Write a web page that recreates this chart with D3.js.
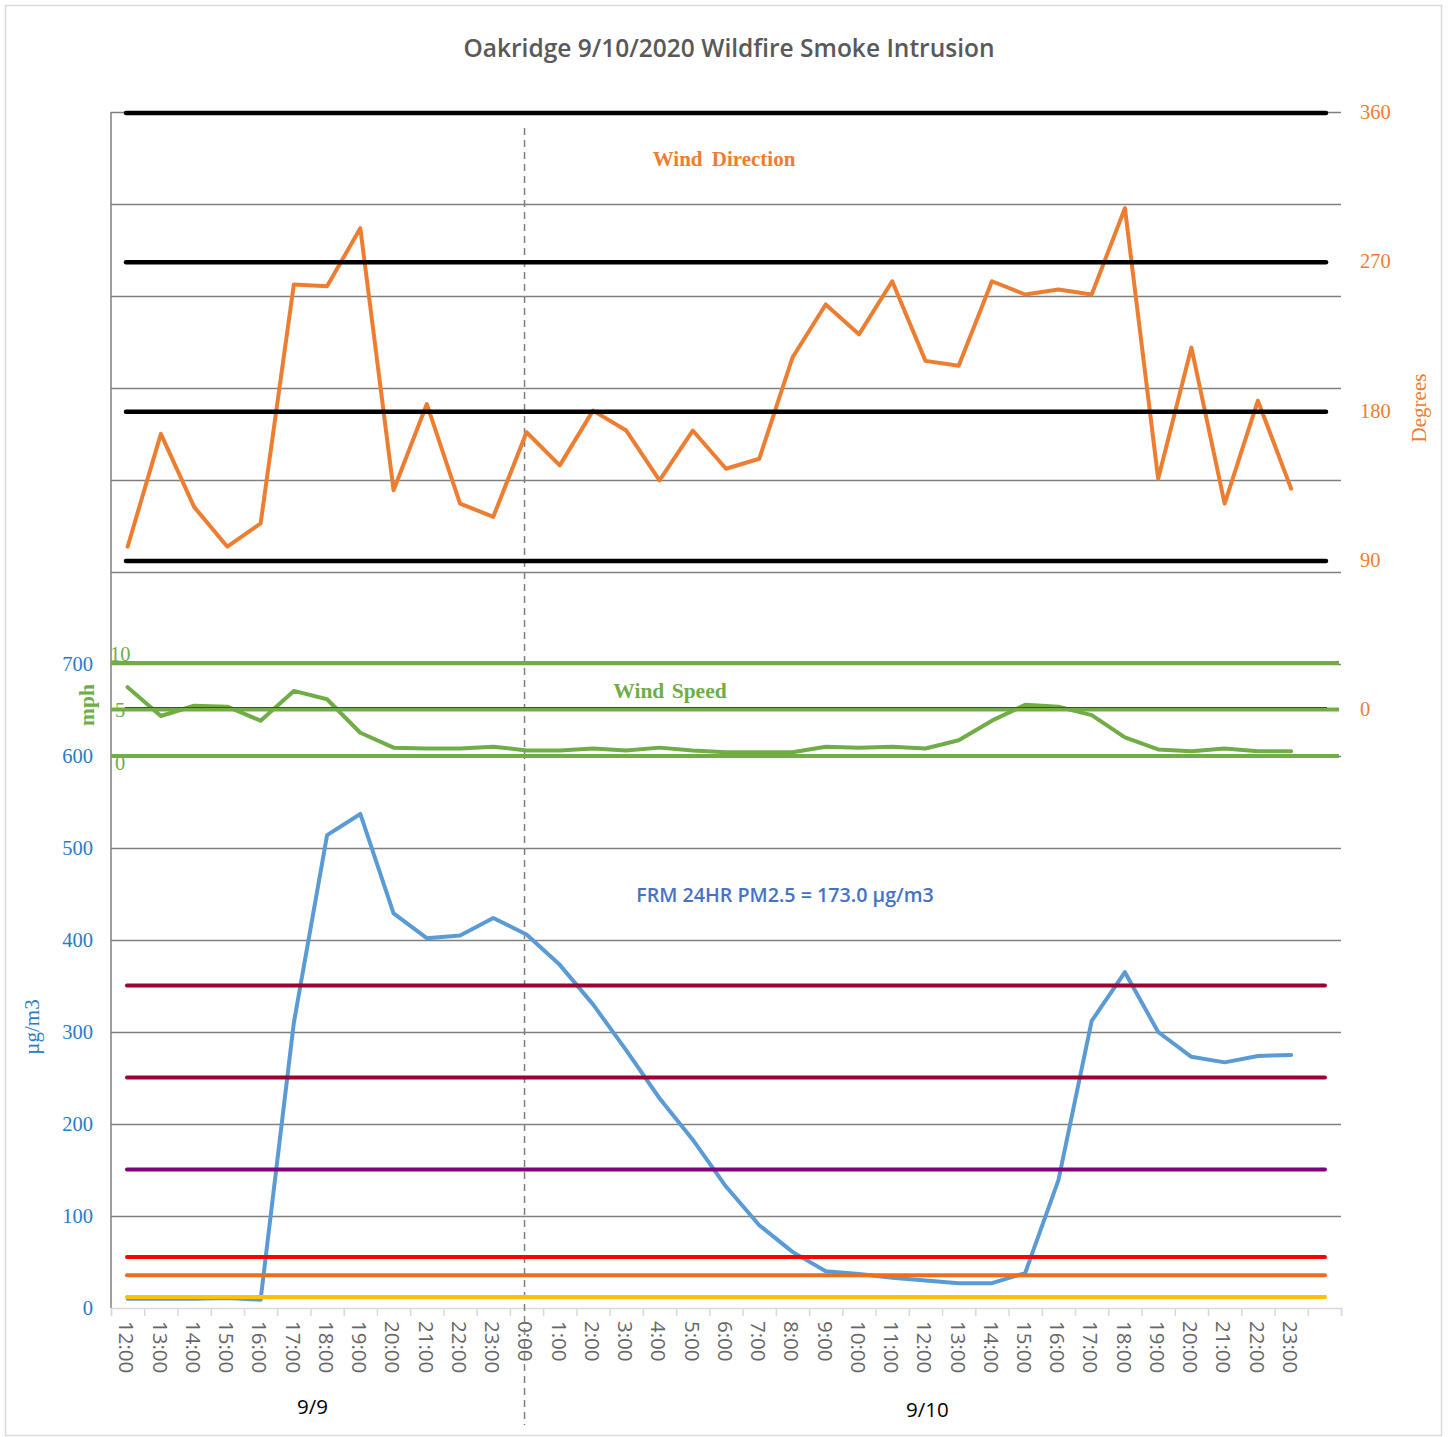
<!DOCTYPE html>
<html>
<head>
<meta charset="utf-8">
<script src="https://cdnjs.cloudflare.com/ajax/libs/d3/7.8.5/d3.min.js"></script>
<style>
  body { margin: 0; background: #fff; }
  svg { display: block; }
</style>
</head>
<body>
<div id="chart"></div>
<script>
// hourly categories, 9/9 12:00 through 9/10 23:00
let hours = ['12:00','13:00','14:00','15:00','16:00','17:00','18:00','19:00','20:00','21:00','22:00','23:00',
  '0:00','1:00','2:00','3:00','4:00','5:00','6:00','7:00','8:00','9:00','10:00','11:00',
  '12:00','13:00','14:00','15:00','16:00','17:00','18:00','19:00','20:00','21:00','22:00','23:00']
let days = ['9/9','9/10']
let dayStart = [0, 12]
let dayEnd = [12, 37]

// PM2.5 ug/m3
let pm25 = [10,10,10,11,9,310,514,537,429,402,405,424,
  406,373,330,280,228,183,132,90,61,40,37,33,
  30,27,27,38,139,312,365,300,273,267,274,275]
// wind direction, degrees
let windDir = [98,166,122,98,112,256,255,290,132,184,124,116,
  167,147,180,168,138,168,145,151,212,244,226,258,
  210,207,258,250,253,250,302,139,218,124,186,133]
// wind speed, mph
let windSpd = [7.4,4.3,5.4,5.3,3.8,7.0,6.1,2.5,0.9,0.8,0.8,1.0,
  0.6,0.6,0.8,0.6,0.9,0.6,0.4,0.4,0.4,1.0,0.9,1.0,
  0.8,1.7,3.8,5.5,5.3,4.4,2.0,0.7,0.5,0.8,0.5,0.5]

let pmTicks = [0,100,200,300,400,500,600,700]
let pmGrid = [100,200,300,400,500,600,700,800,900,1000,1100,1200,1300]
let degTicks = [0,90,180,270,360]
let degRefs = [90,180,270,360]
let mphRefs = [0,5,10]
let mphLabels = ['0','5','10']
let aqiLevels = [12,35.5,55.5,150.5,250.5,350.5]
let aqiColors = ['#ffc000','#ee6e1e','#ff0000','#800080','#9e0031','#9e0031']

let w = 1450, h = 1437
let pLeft = 111, pRight = 1341, pTop = 112, pBottom = 1308

let svg = d3.select('#chart').append('svg').attr('width', w).attr('height', h)

svg.append('rect').attr('x',5.5).attr('y',5.5).attr('width',1436).attr('height',1430)
  .attr('fill','#fff').attr('stroke','#d9d9d9').attr('stroke-width',1.5)

let x = d3.scaleLinear().domain([-0.5, 36.5]).range([pLeft, pRight])
let yPm = d3.scaleLinear().domain([0,1300]).range([pBottom, pTop])
let yDeg = d3.scaleLinear().domain([0,360]).range([709.3, pTop])
let yMph = d3.scaleLinear().domain([0,10]).range([756, 663])

// gridlines
let grid = svg.append('g').attr('transform','translate('+pLeft+',0)')
  .call(d3.axisLeft(yPm).tickValues(pmGrid).tickSize(-(pRight-pLeft)).tickFormat(''))
grid.select('.domain').remove()
grid.selectAll('line').attr('stroke','#808080').attr('stroke-width',1.5)

// left axis line
svg.append('line').attr('x1',pLeft).attr('x2',pLeft).attr('y1',pTop).attr('y2',pBottom)
  .attr('stroke','#808080').attr('stroke-width',1.5)

// x axis line + ticks between categories
let xTicks = svg.append('g').attr('transform','translate(0,'+pBottom+')')
  .call(d3.axisBottom(x).tickValues(d3.range(-0.5, 37, 1)).tickSize(8).tickFormat(''))
xTicks.select('.domain').attr('stroke','#d9d9d9').attr('stroke-width',1.5)
xTicks.selectAll('line').attr('stroke','#d9d9d9').attr('stroke-width',1.5)

// category labels, rotated
svg.append('g').selectAll('text').data(hours).enter().append('text')
  .attr('transform',(d,i)=>'translate('+(x(i)-1)+',1321) rotate(90)')
  .attr('dy','0.35em')
  .attr('font-family','Open Sans, sans-serif').attr('font-size',20.5).attr('fill','#666666')
  .text(d=>d)

svg.append('g').selectAll('text').data(days).enter().append('text')
  .attr('x',(d,i)=>x((dayStart[i]+dayEnd[i])/2-0.5)+2).attr('y',(d,i)=>1414+i*3)
  .attr('text-anchor','middle').attr('font-family','Open Sans, sans-serif').attr('font-size',20.5)
  .attr('fill','#000').text(d=>d)

// dashed day separator
svg.append('line').attr('x1',x(12)-2).attr('x2',x(12)-2).attr('y1',128).attr('y2',1425)
  .attr('stroke','#7f7f7f').attr('stroke-width',1.5).attr('stroke-dasharray','7,5')

// series
let line = (scale) => d3.line().x((d,i)=>x(i)).y(d=>scale(d))
svg.append('path').datum(pm25).attr('d',line(yPm)).attr('fill','none')
  .attr('stroke','#5b9bd5').attr('stroke-width',4).attr('stroke-linejoin','round').attr('stroke-linecap','round')
svg.append('path').datum(windDir).attr('d',line(yDeg)).attr('fill','none')
  .attr('stroke','#ed7d31').attr('stroke-width',4).attr('stroke-linejoin','round').attr('stroke-linecap','round')
svg.append('path').datum(windSpd).attr('d',line(yMph)).attr('fill','none')
  .attr('stroke','#70ad47').attr('stroke-width',4).attr('stroke-linejoin','round').attr('stroke-linecap','round')

// reference lines
svg.append('line').attr('x1',125).attr('x2',1327).attr('y1',yDeg(0)-1.5).attr('y2',yDeg(0)-1.5)
  .attr('stroke','#000').attr('stroke-width',1.5)
svg.append('g').selectAll('line').data(degRefs).enter().append('line')
  .attr('x1',126).attr('x2',1326).attr('y1',d=>yDeg(d)+1).attr('y2',d=>yDeg(d)+1)
  .attr('stroke','#000').attr('stroke-width',4.5).attr('stroke-linecap','round')
svg.append('g').selectAll('line').data(mphRefs).enter().append('line')
  .attr('x1',pLeft).attr('x2',1339).attr('y1',d=>yMph(d)).attr('y2',d=>yMph(d))
  .attr('stroke','#70ad47').attr('stroke-width',4)
svg.append('g').selectAll('line').data(aqiLevels).enter().append('line')
  .attr('x1',127).attr('x2',1325).attr('y1',d=>yPm(d)).attr('y2',d=>yPm(d))
  .attr('stroke',(d,i)=>aqiColors[i]).attr('stroke-width',4).attr('stroke-linecap','round')

// left axis labels
let la = svg.append('g').attr('transform','translate(93,0)')
  .call(d3.axisLeft(yPm).tickValues(pmTicks).tickSize(0).tickPadding(0))
la.select('.domain').remove()
la.selectAll('text').attr('font-family','Liberation Serif, serif').attr('font-size',20.5).attr('fill','#2a7bc6')

// right axis labels
let ra = svg.append('g').attr('transform','translate(1360,0)')
  .call(d3.axisRight(yDeg).tickValues(degTicks).tickSize(0).tickPadding(0))
ra.select('.domain').remove()
ra.selectAll('text').attr('font-family','Liberation Serif, serif').attr('font-size',20.5).attr('fill','#ed7d31')

// wind speed labels
svg.append('g').selectAll('text').data(mphRefs).enter().append('text')
  .attr('x',(d,i)=>i==2?110:115).attr('y',(d,i)=>yMph(d)+[14,7,-2][i])
  .attr('font-family','Liberation Serif, serif').attr('font-size',20.5).attr('fill','#70ad47')
  .text((d,i)=>mphLabels[i])

// axis titles
svg.append('text').attr('transform','translate(39,1027) rotate(-90)').attr('text-anchor','middle')
  .attr('font-family','Liberation Serif, serif').attr('font-size',21).attr('fill','#2a7bc6').text('µg/m3')
svg.append('text').attr('transform','translate(94,705) rotate(-90)').attr('text-anchor','middle')
  .attr('font-family','Liberation Serif, serif').attr('font-weight','bold').attr('font-size',21.5).attr('fill','#70ad47').text('mph')
svg.append('text').attr('transform','translate(1426,408) rotate(-90)').attr('text-anchor','middle')
  .attr('font-family','Liberation Serif, serif').attr('font-size',21).attr('fill','#ed7d31').text('Degrees')

// titles and annotations
svg.append('text').attr('x',729).attr('y',57).attr('text-anchor','middle')
  .attr('font-family','Open Sans, sans-serif').attr('font-weight',600).attr('font-size',24.5).attr('fill','#595959')
  .text('Oakridge 9/10/2020 Wildfire Smoke Intrusion')
svg.append('text').attr('x',724).attr('y',166).attr('text-anchor','middle')
  .attr('font-family','Liberation Serif, serif').attr('font-weight','bold').attr('font-size',21).attr('fill','#ed7d31')
  .attr('word-spacing',4).text('Wind Direction')
svg.append('text').attr('x',670).attr('y',698).attr('text-anchor','middle')
  .attr('font-family','Liberation Serif, serif').attr('font-weight','bold').attr('font-size',21.5).attr('fill','#70ad47')
  .attr('word-spacing',2).text('Wind Speed')
svg.append('text').attr('x',785).attr('y',902).attr('text-anchor','middle')
  .attr('font-family','Open Sans, sans-serif').attr('font-weight',600).attr('font-size',19.7).attr('fill','#4472c4')
  .text('FRM 24HR PM2.5 = 173.0 µg/m3')
</script>
</body>
</html>
